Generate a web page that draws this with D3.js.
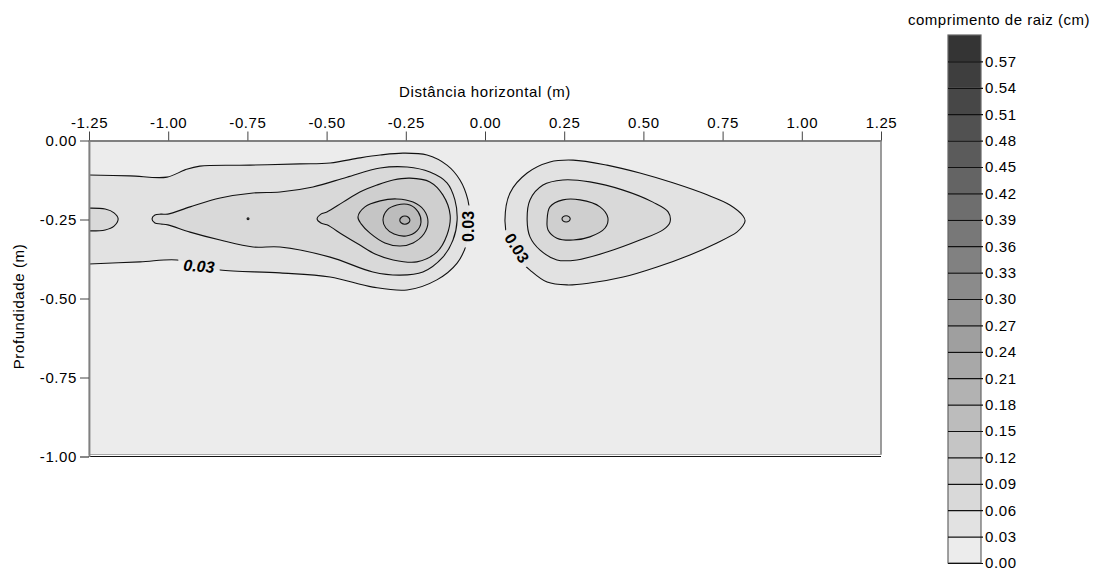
<!DOCTYPE html>
<html>
<head>
<meta charset="utf-8">
<script src="https://cdn.jsdelivr.net/npm/d3@7"></script>
<style>
  body { margin: 0; background: #ffffff; }
  text { font-family: "Liberation Sans", Arial, sans-serif; fill: #000; }
</style>
</head>
<body>
<svg id="chart" width="1096" height="574"></svg>
<script>
// ---------------- data ----------------
const xTicks = [-1.25, -1.00, -0.75, -0.50, -0.25, 0.00, 0.25, 0.50, 0.75, 1.00, 1.25];
const yTicks = [0.00, -0.25, -0.50, -0.75, -1.00];
const levels = [0.00, 0.03, 0.06, 0.09, 0.12, 0.15, 0.18, 0.21, 0.24, 0.27, 0.30,
                0.33, 0.36, 0.39, 0.42, 0.45, 0.48, 0.51, 0.54, 0.57, 0.60];
const legendTickValues = levels.slice(0, 20);

const xTitle = "Distância horizontal (m)";
const yTitle = "Profundidade (m)";
const legendTitle = "comprimento de raiz (cm)";

// contour rings: [horizontal distance (m), depth (m)]
const c003Left = [[-1.25,-0.109],[-1.121,-0.112],[-1.004,-0.116],[-0.947,-0.093],[-0.900,-0.081],
  [-0.742,-0.078],[-0.584,-0.074],[-0.489,-0.071],[-0.395,-0.055],[-0.331,-0.046],[-0.259,-0.040],
  [-0.183,-0.046],[-0.120,-0.078],[-0.079,-0.125],[-0.054,-0.188],[-0.047,-0.252],[-0.057,-0.324],
  [-0.088,-0.388],[-0.152,-0.441],[-0.246,-0.473],[-0.354,-0.464],[-0.489,-0.432],[-0.647,-0.419],
  [-0.836,-0.410],[-0.900,-0.397],[-0.972,-0.378],[-1.089,-0.384],[-1.25,-0.391]];
const c006Edge = [[-1.25,-0.214],[-1.199,-0.217],[-1.171,-0.229],[-1.158,-0.248],[-1.171,-0.271],
  [-1.199,-0.283],[-1.25,-0.286]];
const c006Left = [[-1.051,-0.248],[-1.042,-0.236],[-1.023,-0.233],[-1.001,-0.233],[-0.931,-0.210],
  [-0.836,-0.182],[-0.732,-0.166],[-0.647,-0.163],[-0.543,-0.147],[-0.436,-0.116],[-0.331,-0.087],
  [-0.246,-0.084],[-0.174,-0.100],[-0.120,-0.134],[-0.095,-0.188],[-0.088,-0.252],[-0.101,-0.315],
  [-0.133,-0.369],[-0.196,-0.416],[-0.268,-0.426],[-0.354,-0.416],[-0.489,-0.369],[-0.647,-0.337],
  [-0.732,-0.337],[-0.836,-0.315],[-0.931,-0.290],[-1.001,-0.267],[-1.023,-0.264],[-1.042,-0.261]];
const c009Dot = [[-0.745,-0.248],[-0.748,-0.245],[-0.751,-0.248],[-0.748,-0.251]];
const c009Left = [[-0.530,-0.248],[-0.518,-0.233],[-0.499,-0.226],[-0.448,-0.195],[-0.395,-0.163],
  [-0.341,-0.141],[-0.290,-0.125],[-0.237,-0.119],[-0.174,-0.131],[-0.133,-0.172],[-0.110,-0.236],
  [-0.120,-0.299],[-0.152,-0.353],[-0.215,-0.384],[-0.290,-0.378],[-0.347,-0.359],[-0.395,-0.331],
  [-0.448,-0.299],[-0.499,-0.267],[-0.518,-0.261]];
const c012Left = [[-0.401,-0.242],[-0.379,-0.210],[-0.331,-0.191],[-0.278,-0.185],[-0.227,-0.195],
  [-0.193,-0.220],[-0.180,-0.258],[-0.193,-0.296],[-0.227,-0.324],[-0.268,-0.334],[-0.316,-0.324],
  [-0.363,-0.293],[-0.391,-0.264]];
const c015Left = [[-0.322,-0.252],[-0.309,-0.220],[-0.278,-0.204],[-0.237,-0.204],[-0.211,-0.226],
  [-0.202,-0.258],[-0.215,-0.286],[-0.249,-0.302],[-0.287,-0.296],[-0.313,-0.277]];
const c018Left = [[-0.237,-0.252],[-0.242,-0.243],[-0.253,-0.239],[-0.264,-0.243],[-0.269,-0.252],
  [-0.264,-0.261],[-0.253,-0.265],[-0.242,-0.261]];
const c003Right = [[0.063,-0.252],[0.079,-0.166],[0.133,-0.103],[0.205,-0.068],[0.278,-0.062],
  [0.385,-0.078],[0.489,-0.103],[0.593,-0.134],[0.701,-0.172],[0.773,-0.204],[0.814,-0.238],
  [0.821,-0.254],[0.814,-0.270],[0.795,-0.290],[0.732,-0.324],[0.647,-0.362],[0.543,-0.400],
  [0.436,-0.432],[0.331,-0.451],[0.259,-0.457],[0.196,-0.448],[0.142,-0.410],[0.101,-0.369],
  [0.073,-0.315]];
const c006Right = [[0.133,-0.252],[0.142,-0.188],[0.183,-0.141],[0.246,-0.125],[0.331,-0.131],
  [0.436,-0.157],[0.530,-0.195],[0.578,-0.226],[0.584,-0.258],[0.562,-0.283],[0.489,-0.315],
  [0.385,-0.353],[0.290,-0.378],[0.227,-0.378],[0.174,-0.347],[0.142,-0.305]];
const c009Right = [[0.196,-0.252],[0.205,-0.210],[0.246,-0.188],[0.300,-0.188],[0.363,-0.210],
  [0.388,-0.245],[0.379,-0.277],[0.331,-0.305],[0.278,-0.315],[0.227,-0.309],[0.199,-0.283]];
const c012Right = [[0.269,-0.248],[0.265,-0.241],[0.256,-0.238],[0.247,-0.241],[0.243,-0.248],
  [0.247,-0.255],[0.256,-0.258],[0.265,-0.255]];

// contour labels: [x, depth, rotation]
const labelText = ["0.03", "0.03", "0.03"];
const labelPos = [[-0.054, -0.272, -90], [0.101, -0.340, 58], [-0.903, -0.397, 4]];

// ---------------- build ----------------
const contourSet = [
  { level: 0.03, edge: true,  pts: c003Left },
  { level: 0.03, edge: false, pts: c003Right },
  { level: 0.06, edge: true,  pts: c006Edge },
  { level: 0.06, edge: false, pts: c006Left },
  { level: 0.06, edge: false, pts: c006Right },
  { level: 0.09, edge: false, pts: c009Dot },
  { level: 0.09, edge: false, pts: c009Left },
  { level: 0.09, edge: false, pts: c009Right },
  { level: 0.12, edge: false, pts: c012Left },
  { level: 0.12, edge: false, pts: c012Right },
  { level: 0.15, edge: false, pts: c015Left },
  { level: 0.18, edge: false, pts: c018Left }
];

const svg = d3.select("#chart");
const x = d3.scaleLinear().domain([-1.25, 1.25]).range([89, 881]);
const y = d3.scaleLinear().domain([0, -1]).range([140.5, 456.5]);
const bandColor = d3.scaleLinear().domain([0, 19]).range(["#ececec", "#343434"]);
const bandOf = v => Math.round(v / 0.03);
const fmt = d => d.toFixed(2);

const defs = svg.append("defs");
defs.append("clipPath").attr("id", "plotclip").append("rect")
  .attr("x", x(-1.25)).attr("y", y(0)).attr("width", x(1.25) - x(-1.25)).attr("height", y(-1) - y(0) - 2);

// plot background
svg.append("rect")
  .attr("x", x(-1.25)).attr("y", y(0))
  .attr("width", x(1.25) - x(-1.25)).attr("height", y(-1) - y(0) - 2)
  .attr("fill", bandColor(0)).attr("stroke", "#a8a8a8").attr("stroke-width", 1);

const lineClosed = d3.line().x(d => x(d[0])).y(d => y(d[1])).curve(d3.curveCatmullRomClosed.alpha(0.5));
const lineOpen = d3.line().x(d => x(d[0])).y(d => y(d[1])).curve(d3.curveCatmullRom.alpha(0.5));

const plot = svg.append("g").attr("clip-path", "url(#plotclip)");
// fills (low to high)
plot.selectAll("path.fill").data(contourSet).join("path")
  .attr("class", "fill")
  .attr("d", c => c.edge ? lineOpen(c.pts) + "Z" : lineClosed(c.pts))
  .attr("fill", c => bandColor(bandOf(c.level)))
  .attr("stroke", "none");

// label mask
const mask = defs.append("mask").attr("id", "lblmask").attr("maskUnits", "userSpaceOnUse")
  .attr("x", 0).attr("y", 0).attr("width", 1096).attr("height", 574);
mask.append("rect").attr("x", 0).attr("y", 0).attr("width", 1096).attr("height", 574).attr("fill", "#fff");
mask.selectAll("rect.hole").data(labelPos).join("rect")
  .attr("class", "hole")
  .attr("x", -21).attr("y", -8).attr("width", 42).attr("height", 16)
  .attr("fill", "#000")
  .attr("transform", d => `translate(${x(d[0])},${y(d[1])}) rotate(${d[2]})`);

// lines
plot.append("g").attr("mask", "url(#lblmask)")
  .selectAll("path.line").data(contourSet).join("path")
  .attr("class", "line")
  .attr("d", c => c.edge ? lineOpen(c.pts) : lineClosed(c.pts))
  .attr("fill", "none").attr("stroke", "#111").attr("stroke-width", 1.1);

// contour labels
svg.selectAll("text.clabel").data(labelPos).join("text")
  .attr("class", "clabel")
  .attr("transform", d => `translate(${x(d[0])},${y(d[1])}) rotate(${d[2]})`)
  .attr("text-anchor", "middle").attr("dy", "0.36em")
  .attr("font-size", 16).attr("font-weight", "bold")
  .attr("font-style", (d, i) => i === 2 ? "italic" : "normal")
  .text((d, i) => labelText[i]);

// right border
svg.append("line")
  .attr("x1", x(1.25)).attr("x2", x(1.25)).attr("y1", y(0)).attr("y2", y(-1) - 2)
  .attr("stroke", "#8a8a8a").attr("stroke-width", 1.5);
// bottom black line
svg.append("line")
  .attr("x1", x(-1.25)).attr("x2", x(1.25)).attr("y1", y(-1)).attr("y2", y(-1))
  .attr("stroke", "#111").attr("stroke-width", 1.2);

// axes
const xAxis = svg.append("g").attr("transform", `translate(0,${y(0)})`)
  .call(d3.axisTop(x).tickValues(xTicks).tickFormat(fmt).tickSize(9).tickSizeOuter(0).tickPadding(4));
const yAxis = svg.append("g").attr("transform", `translate(${x(-1.25)},0)`)
  .call(d3.axisLeft(y).tickValues(yTicks).tickFormat(fmt).tickSize(9).tickSizeOuter(0).tickPadding(3));
[xAxis, yAxis].forEach(a => {
  a.select(".domain").attr("stroke", "#808080").attr("stroke-width", 1.8);
  a.selectAll(".tick line").attr("stroke", "#444").attr("stroke-width", 1);
  a.selectAll(".tick text").attr("font-size", 15).attr("fill", "#000")
    .attr("font-family", "'Liberation Sans', Arial, sans-serif").style("letter-spacing", "0.6px");
});
yAxis.selectAll(".tick").filter(d => d === -1).select("line").attr("stroke", "#111");

// titles
svg.append("text").attr("x", x(0)).attr("y", 97).attr("text-anchor", "middle")
  .attr("font-size", 15).style("letter-spacing", "0.6px").text(xTitle);
svg.append("text").attr("transform", `translate(24,${(y(0) + y(-1)) / 2 + 8}) rotate(-90)`)
  .attr("text-anchor", "middle").attr("font-size", 15).style("letter-spacing", "0.6px").text(yTitle);

// legend
const ly = d3.scaleLinear().domain([0, 0.6]).range([563, 35]);
const lx = 948, lw = 33;
const bands = d3.range(20);
svg.append("g").selectAll("rect").data(bands).join("rect")
  .attr("x", lx).attr("width", lw)
  .attr("y", i => ly(levels[i + 1])).attr("height", i => ly(levels[i]) - ly(levels[i + 1]))
  .attr("fill", i => bandColor(i));
svg.append("rect").attr("x", lx).attr("y", ly(0.6)).attr("width", lw).attr("height", ly(0) - ly(0.6))
  .attr("fill", "none").attr("stroke", "#666").attr("stroke-width", 1.2);
const lAxis = svg.append("g").attr("transform", `translate(${lx},0)`)
  .call(d3.axisRight(ly).tickValues(legendTickValues).tickFormat(fmt).tickSize(lw + 2).tickPadding(2));
lAxis.select(".domain").remove();
lAxis.selectAll(".tick line").attr("stroke", "#111").attr("stroke-width", 1.2);
lAxis.selectAll(".tick text").attr("font-size", 15).attr("fill", "#000")
  .attr("font-family", "'Liberation Sans', Arial, sans-serif").style("letter-spacing", "0.6px");
svg.append("text").attr("x", 1090).attr("y", 25).attr("text-anchor", "end")
  .attr("font-size", 15).style("letter-spacing", "0.5px").text(legendTitle);
</script>
</body>
</html>
